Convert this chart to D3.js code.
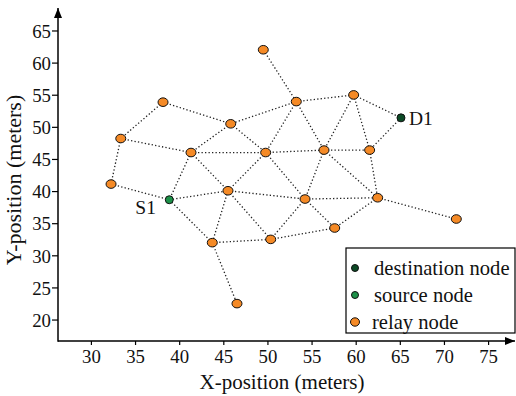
<!DOCTYPE html>
<html>
<head>
<meta charset="utf-8">
<script src="https://cdn.jsdelivr.net/npm/d3@7"></script>
<style>
    body { margin: 0; background: white; }
    svg text { font-family: 'Liberation Serif', 'DejaVu Serif', serif; fill: #111; }
    .link { stroke: #222; stroke-width: 1.3; stroke-dasharray: 1.3,2.2; fill: none; }
</style>
</head>
<body>
<div id="paper"></div>
<script>

// node positions in meters.

const node_x = [49.53, 38.17, 53.27, 59.77, 65.13, 45.84, 33.38, 41.34, 49.80, 56.41, 61.58,
                32.28, 45.53, 38.88, 54.26, 62.49, 71.40, 57.62, 43.75, 50.37, 46.55]
const node_y = [62.0, 53.84, 53.93, 54.97, 51.40, 50.47, 48.18, 46.0, 46.0, 46.38, 46.38,
                41.09, 40.05, 38.65, 38.76, 38.96, 35.65, 34.25, 31.97, 32.48, 22.48]
const node_kind = ['relay', 'relay', 'relay', 'relay', 'destination', 'relay', 'relay', 'relay', 'relay', 'relay', 'relay',
                   'relay', 'relay', 'source', 'relay', 'relay', 'relay', 'relay', 'relay', 'relay', 'relay']

// links as pairs of node indices.

const links = [[0,2],[1,5],[1,6],[2,3],[2,5],[2,8],[2,9],[3,4],[3,9],[3,10],[4,10],
               [5,7],[5,8],[6,7],[6,11],[7,8],[7,13],[7,12],[8,9],[8,12],[8,14],[9,10],
               [9,14],[9,15],[10,15],[11,13],[13,12],[13,18],[12,18],[12,14],[12,19],
               [14,15],[14,19],[14,17],[15,17],[15,16],[18,19],[18,20],[19,17]]

const node_labels = [{i: 13, text: 'S1'}, {i: 4, text: 'D1'}]

const x_ticks = [30, 35, 40, 45, 50, 55, 60, 65, 70, 75]
const y_ticks = [20, 25, 30, 35, 40, 45, 50, 55, 60, 65]

const legend_names = ['destination node', 'source node', 'relay node']
const legend_kinds = ['destination', 'source', 'relay']

const fills = { destination: '#0d4a26', source: '#1c9148', relay: '#f58a26' }

const serif = "'Liberation Serif', 'DejaVu Serif', serif"

// svg canvas.

let svg = d3.select("#paper")
    .append("svg")
    .attr("id", "canvas")
    .attr("width", 516)
    .attr("height", 396)

svg.append("defs").append("marker")
    .attr("id", "arrow")
    .attr("viewBox", "0 0 10 10")
    .attr("refX", 10).attr("refY", 5)
    .attr("markerWidth", 10).attr("markerHeight", 10)
    .attr("markerUnits", "userSpaceOnUse")
    .attr("orient", "auto")
    .append("path")
    .attr("d", "M0,1 L10,5 L0,9 Z")
    .style("fill", "#000")

let x = d3.scaleLinear().domain([26.27, 78.05]).range([58, 515])
let y = d3.scaleLinear().domain([16.66, 68.5]).range([341, 8])

// axes.

let x_axis = d3.axisBottom(x).tickValues(x_ticks).tickSize(4).tickPadding(5).tickSizeOuter(0)
let y_axis = d3.axisLeft(y).tickValues(y_ticks).tickSize(6).tickPadding(1).tickSizeOuter(0)

let gx = svg.append("g").attr("transform", `translate(0, ${y.range()[0]})`).call(x_axis)
let gy = svg.append("g").attr("transform", `translate(${x.range()[0]}, 0)`).call(y_axis)

gx.select(".domain").remove()
gy.select(".domain").remove()

for (let g of [gx, gy]) {
    g.attr("font-family", serif).attr("font-size", 18.8)
    g.selectAll("text").attr("fill", "#111")
    g.selectAll("line").style("stroke", "#000").style("stroke-width", 1.2)
}
gy.selectAll("text").attr("dy", "0.36em")

svg.append("line")
    .attr("x1", x.range()[0]).attr("y1", y.range()[0])
    .attr("x2", x.range()[1]).attr("y2", y.range()[0])
    .style("stroke", "#000").style("stroke-width", 1.5)
    .attr("marker-end", "url(#arrow)")

svg.append("line")
    .attr("x1", x.range()[0]).attr("y1", y.range()[0] + 0.75)
    .attr("x2", x.range()[0]).attr("y2", y.range()[1])
    .style("stroke", "#000").style("stroke-width", 1.5)
    .attr("marker-end", "url(#arrow)")

// axis titles.

svg.append("text")
    .attr("x", 282).attr("y", 389)
    .attr("text-anchor", "middle")
    .style("font-size", "21px")
    .text("X-position (meters)")

svg.append("text")
    .attr("transform", "translate(21, 180) rotate(-90)")
    .attr("text-anchor", "middle")
    .style("font-size", "22px")
    .text("Y-position (meters)")

// dotted links.

svg.selectAll(".link")
    .data(links)
    .join("line")
    .attr("class", "link")
    .attr("x1", d => x(node_x[d[0]]))
    .attr("y1", d => y(node_y[d[0]]))
    .attr("x2", d => x(node_x[d[1]]))
    .attr("y2", d => y(node_y[d[1]]))

// nodes.

let nodes = node_x.map((v, i) => ({ x: v, y: node_y[i], kind: node_kind[i] }))

svg.selectAll(".node")
    .data(nodes)
    .join("ellipse")
    .attr("class", "node")
    .attr("cx", d => x(d.x))
    .attr("cy", d => y(d.y))
    .attr("rx", d => d.kind == 'relay' ? 5 : 4)
    .attr("ry", d => d.kind == 'relay' ? 4.3 : 4)
    .style("fill", d => fills[d.kind])
    .style("stroke", "#111")
    .style("stroke-width", 1)

// S1 and D1 labels.

svg.selectAll(".node_label")
    .data(node_labels)
    .join("text")
    .attr("class", "node_label")
    .attr("x", d => d.text == 'S1' ? x(node_x[d.i]) - 34 : x(node_x[d.i]) + 8)
    .attr("y", d => d.text == 'S1' ? y(node_y[d.i]) + 14 : y(node_y[d.i]) + 7)
    .style("font-size", "19.5px")
    .text(d => d.text)

// legend.

let legend = svg.append("g").attr("transform", "translate(346, 248)")

legend.append("rect")
    .attr("x", 0).attr("y", 0)
    .attr("width", 169).attr("height", 85)
    .style("fill", "white")
    .style("stroke", "#000")
    .style("stroke-width", 1.2)

legend.selectAll(".legend_dot")
    .data(legend_kinds)
    .join("ellipse")
    .attr("class", "legend_dot")
    .attr("cx", 9)
    .attr("cy", (d, i) => 20 + i * 27)
    .attr("rx", d => d == 'relay' ? 4.5 : 3.5)
    .attr("ry", d => d == 'relay' ? 4.2 : 3.5)
    .style("fill", d => fills[d])
    .style("stroke", "#111")
    .style("stroke-width", 1)

legend.selectAll(".legend_text")
    .data(legend_names)
    .join("text")
    .attr("class", "legend_text")
    .attr("x", (d, i) => [28, 28, 26][i])
    .attr("y", (d, i) => 27 + i * 27)
    .style("font-size", "20.6px")
    .text(d => d)

</script>
</body>
</html>
